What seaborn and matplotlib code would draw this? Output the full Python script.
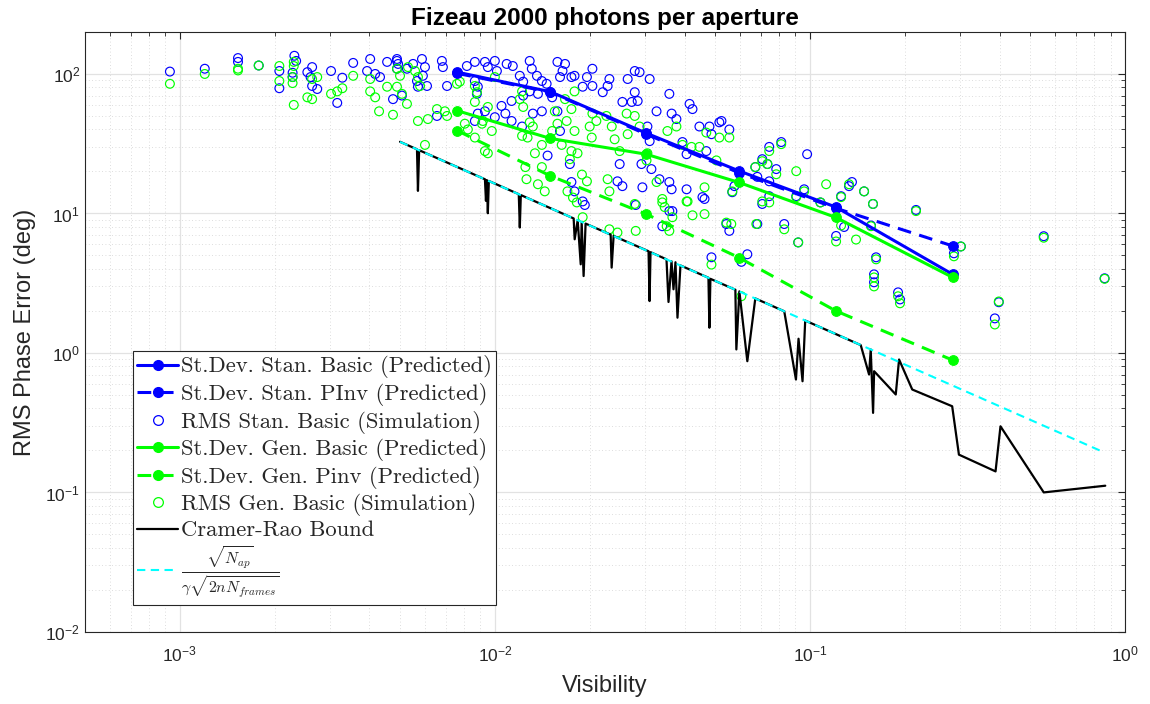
import numpy as np
import matplotlib
matplotlib.use("Agg")
import matplotlib.pyplot as plt
import seaborn as sns
from matplotlib.font_manager import FontProperties
from matplotlib.ticker import LogLocator, NullFormatter
from matplotlib.lines import Line2D

# ---------------- data ----------------
vis_pred = [0.0076, 0.0150, 0.0302, 0.0595, 0.121, 0.284]
stan_basic_pred = [103, 74.6, 37.7, 20.2, 11.1, 3.66]
stan_pinv_pred = [101, 74.0, 37.0, 19.6, 10.9, 5.85]
gen_basic_pred = [54.5, 34.5, 26.6, 16.7, 9.36, 3.48]
gen_pinv_pred = [39.2, 18.6, 9.9, 4.83, 2.0, 0.888]

vis_stan_sim = [
    0.00093, 0.0012, 0.00153, 0.00153, 0.00178, 0.00207, 0.00207, 0.00231, 0.00234, 0.00228,
    0.00228, 0.00254, 0.00263, 0.0026, 0.00263, 0.00273, 0.00302, 0.00316, 0.00328, 0.00355,
    0.00402, 0.00393, 0.00417, 0.00432, 0.00455, 0.00475, 0.00489, 0.00489,
    0.00489, 0.00493, 0.00526, 0.0055, 0.00587, 0.0060, 0.00591, 0.00566, 0.0057, 0.00507,
    0.00609, 0.00679, 0.00684, 0.00705, 0.00815, 0.00864, 0.00864, 0.00883, 0.00877, 0.0093,
    0.0095, 0.0100, 0.01015, 0.0109, 0.0114, 0.0120, 0.0123, 0.0129, 0.0131, 0.0136,
    0.0141, 0.0146, 0.0158, 0.0161, 0.0152, 0.0137, 0.0129, 0.0123, 0.0113, 0.0108,
    0.0113, 0.0100, 0.0093, 0.00883, 0.00864, 0.00655, 0.0122, 0.0132, 0.0141, 0.0147,
    0.0105, 0.0158, 0.0161,
    0.0164, 0.0175, 0.0179, 0.0196, 0.0204, 0.0231, 0.0228, 0.0220, 0.0204, 0.0278,
    0.0288, 0.0264, 0.0310, 0.0278, 0.0254, 0.0272, 0.0284, 0.0358, 0.0326, 0.0364,
    0.0377, 0.0415, 0.0424, 0.0446, 0.0480, 0.0516, 0.0487, 0.0305, 0.0310, 0.0292,
    0.0314, 0.0249, 0.0245, 0.0254, 0.0294, 0.0333, 0.0358, 0.0364, 0.0358, 0.0406,
    0.0456, 0.0394, 0.0406, 0.0469, 0.0190, 0.0173, 0.0175, 0.0179, 0.0167, 0.0190,
    0.0193, 0.0280, 0.0366, 0.0340, 0.0463, 0.0543, 0.0555, 0.0487, 0.0633, 0.0606,
    0.0524, 0.0555, 0.0743, 0.0811, 0.0706, 0.0671, 0.0733, 0.0782, 0.0681, 0.0743,
    0.0743, 0.0706, 0.098, 0.0959, 0.0905, 0.108, 0.1331, 0.136, 0.1486, 0.1586,
    0.1256, 0.2172, 0.0681, 0.0829, 0.0918, 0.1211, 0.1284, 0.1563, 0.1622, 0.1598,
    0.1598, 0.1905, 0.1932, 0.0567, 0.0576, 0.2865, 0.3014, 0.3978, 0.3864, 0.5524,
    0.8619]
rms_stan_sim = [
    104, 109, 130, 122, 115, 105, 79, 135, 124, 102,
    95, 103, 112, 95, 82, 78, 105, 62, 94, 120,
    128, 105, 100, 95, 122, 66, 124, 109,
    128, 118, 109, 118, 128, 112, 97, 89, 81, 70,
    82, 124, 112, 82, 114, 122, 89, 81, 72, 122,
    112, 124, 105, 118, 114, 97, 88, 124, 109, 97,
    89, 85, 122, 95, 68, 72, 75, 70, 64, 52,
    46, 49, 54, 52, 46, 50, 42, 52, 54, 26,
    59, 54, 39,
    105, 95, 97, 95, 82, 92, 82, 74, 109, 105,
    103, 92, 92, 74, 63, 63, 64, 72, 54, 52,
    47.5, 61, 56, 42, 42, 45, 37, 42, 33, 22.6,
    20.8, 22.6, 17, 15.7, 15.4, 17.6, 16.8, 14.9, 10.4, 14.9,
    13.1, 32.5, 26.6, 28, 12.2, 22.6, 16.8, 14.4, 118, 81,
    11.5, 11.5, 10.4, 8.1, 12.7, 8.4, 7.5, 4.85, 5.1, 4.5,
    46, 40, 30, 32.5, 24.5, 21.5, 22.6, 20.8, 18.3, 17,
    13.3, 11.7, 26.6, 14.9, 13.3, 12, 15.7, 16.8, 14.4, 11.7,
    13.3, 10.6, 8.4, 8.4, 6.2, 6.9, 8.0, 8.2, 4.85, 3.66,
    3.21, 2.72, 2.42, 14.2, 15.7, 5.18, 5.8, 2.31, 1.77, 6.87,
    3.43]

vis_gen_sim = [
    0.00093, 0.0012, 0.00153, 0.00153, 0.00178, 0.00207, 0.00207, 0.0023, 0.0023, 0.00228,
    0.00228, 0.0023, 0.00254, 0.00263, 0.00263, 0.00273, 0.00302, 0.00316, 0.00328, 0.00355,
    0.00402, 0.00402, 0.00417, 0.00429, 0.00455, 0.00475, 0.00489,
    0.0050, 0.0053, 0.00558, 0.0057, 0.00579, 0.00489, 0.00507, 0.00526, 0.0057, 0.00613,
    0.00655, 0.00694, 0.00705, 0.00758, 0.00774, 0.00864, 0.00877, 0.00864, 0.0095, 0.0100,
    0.00916, 0.0091, 0.00978, 0.00803, 0.00821, 0.00864, 0.0060, 0.0095, 0.0093, 0.0122,
    0.0120, 0.0123, 0.0129, 0.0132, 0.0122, 0.0127, 0.0141, 0.0134, 0.0125, 0.0141,
    0.0126, 0.0137, 0.0144, 0.0155, 0.0158, 0.0152, 0.0163,
    0.0179, 0.0167, 0.0175, 0.0169, 0.0179, 0.0204, 0.0210, 0.0200, 0.0203, 0.0226,
    0.0235, 0.0262, 0.0278, 0.0288, 0.0264, 0.0240, 0.0249, 0.0305, 0.0303, 0.0353,
    0.0377, 0.0394, 0.0421, 0.0446, 0.0469, 0.0516, 0.0505, 0.0175, 0.0173, 0.0183,
    0.0189, 0.0196, 0.0170, 0.0177, 0.0228, 0.0231, 0.0278, 0.0340, 0.0409, 0.0463,
    0.0326,
    0.0182, 0.0190, 0.0231, 0.0245, 0.0280, 0.0340, 0.0346, 0.0366, 0.0351, 0.0358,
    0.0406, 0.0424, 0.0463, 0.0543, 0.0563, 0.0487, 0.0676, 0.0606,
    0.0555, 0.0743, 0.0811, 0.0706, 0.0671, 0.0733, 0.0782, 0.0743, 0.0706, 0.0905,
    0.0959, 0.0905, 0.108, 0.1126, 0.1331, 0.1486, 0.1586, 0.1256, 0.2172, 0.0829,
    0.0918, 0.1211, 0.1401, 0.1256, 0.1563, 0.1622, 0.1598, 0.1598, 0.1905, 0.1932,
    0.0567, 0.2865, 0.3014, 0.3978, 0.3864, 0.5524, 0.8619]
rms_gen_sim = [
    85, 100, 109, 106, 115, 114, 89, 122, 114, 95,
    86, 60, 68, 66, 92, 95, 72, 75, 79, 97,
    92, 75, 68, 54, 81, 51, 109,
    97, 112, 105, 95, 82, 81, 72, 61, 46, 47.5,
    56, 54, 50, 85, 88, 82, 74, 63, 58, 95,
    46, 44, 39, 44, 40, 35, 31, 27, 28, 75,
    66, 58, 45, 42, 36, 35, 31, 27, 21.5, 21.5,
    17.6, 16.2, 14.4, 54, 44, 39, 31,
    75, 66, 56, 46, 39, 52, 46, 42, 35, 50,
    42, 52, 50, 42, 37, 34, 28, 27, 24, 39,
    42, 31, 30, 30, 38, 35, 24, 28, 24.5, 27,
    19, 17, 14.4, 13, 17.6, 14.4, 11.7, 12.7, 12.2, 15.4,
    16.8,
    12, 9.4, 7.7, 7.3, 7.5, 12, 11.1, 9.4, 8.1, 7.5,
    12.2, 9.7, 9.9, 8.6, 8.4, 4.3, 8.4, 2.55,
    35, 28, 31.4, 23.7, 21.5, 22.6, 19.1, 12, 12.2, 20.1,
    14.4, 13.1, 12, 16.2, 16.2, 14.4, 11.7, 13.1, 10.4, 7.7,
    6.2, 6.3, 6.5, 8.2, 8.1, 4.69, 3.48, 3.0, 2.55, 2.27,
    14.4, 4.93, 5.8, 2.34, 1.60, 6.7, 3.4]

vis_crb = [0.00500, 0.00566, 0.00570, 0.00575, 0.00930, 0.00937, 0.00943, 0.00950, 0.00957, 0.01191,
           0.01200, 0.01209, 0.01779, 0.01792, 0.01832, 0.01873, 0.01886, 0.01913, 0.01941, 0.02331,
           0.02348, 0.02382, 0.03075, 0.03098, 0.03120, 0.03506, 0.03558, 0.03637, 0.03690, 0.03744,
           0.03799, 0.03883, 0.04764, 0.04797, 0.04833, 0.05800, 0.05842, 0.05972, 0.06330, 0.06710,
           0.08291, 0.09031, 0.09203, 0.09476, 0.09663, 0.1450, 0.1541, 0.1560, 0.1587, 0.1599,
           0.1873, 0.1919, 0.2113, 0.2829, 0.2972, 0.3884, 0.4027, 0.5525, 0.8662]
crb = [32.65, 28.84, 14.52, 28.41, 17.59, 12.31, 17.36, 10.04, 17.10, 13.75,
       7.93, 13.55, 9.21, 6.53, 8.94, 4.32, 8.65, 3.56, 8.46, 7.05,
       4.09, 6.90, 5.36, 2.355, 5.28, 4.69, 2.32, 4.54, 2.86, 4.47,
       1.79, 4.24, 3.46, 1.517, 3.40, 2.84, 1.060, 2.765, 0.873, 2.46,
       1.99, 0.645, 1.265, 0.627, 1.708, 1.139, 0.701, 1.060, 0.372, 0.740,
       0.504, 0.898, 0.547, 0.415, 0.1867, 0.1416, 0.298, 0.1001, 0.1118]

vis_approx = [0.0050, 0.845]
approx = [32.6, 0.197]

labels = ["St.Dev. Stan. Basic (Predicted)",
          "St.Dev. Stan. PInv (Predicted)",
          "RMS Stan. Basic (Simulation)",
          "St.Dev. Gen. Basic (Predicted)",
          "St.Dev. Gen. Pinv (Predicted)",
          "RMS Gen. Basic (Simulation)",
          "Cramer-Rao Bound",
          r"$\frac{\sqrt{N_{ap}}}{\gamma\sqrt{2nN_{frames}}}$"]

# ---------------- style ----------------
sns.set_theme(style="white")
plt.rcParams['font.family'] = ['Liberation Sans', 'DejaVu Sans']
plt.rcParams['mathtext.fontset'] = 'custom'
plt.rcParams['mathtext.rm'] = 'Liberation Sans'
plt.rcParams['mathtext.it'] = 'Liberation Sans:italic'
plt.rcParams['mathtext.bf'] = 'Liberation Sans:bold'

BLUE = '#0000ff'
GREEN = '#00ff00'
CYAN = '#00ffff'
DASH = (0, (4.5, 2.8))

fig = plt.figure(figsize=(11.5, 7.04), dpi=100)
ax = fig.add_axes([0.0739, 0.1023, 0.9043, 0.8523])
ax.set_xscale('log')
ax.set_yscale('log')
ax.set_axisbelow(True)

lw = 2.2
ms = 7
sns.lineplot(x=vis_pred, y=stan_basic_pred, ax=ax, color=BLUE, lw=lw, marker='o', markersize=ms,
             markeredgecolor=BLUE, estimator=None, sort=False)
sns.lineplot(x=vis_pred, y=stan_pinv_pred, ax=ax, color=BLUE, lw=lw, linestyle=DASH, marker='o',
             markersize=ms, markeredgecolor=BLUE, estimator=None, sort=False)
sns.scatterplot(x=vis_stan_sim, y=rms_stan_sim, ax=ax, marker='o', s=40, linewidth=0.85)
c = ax.collections[-1]
c.set_facecolor('none'); c.set_edgecolor(BLUE); c.set_linewidth(0.85)

sns.lineplot(x=vis_pred, y=gen_basic_pred, ax=ax, color=GREEN, lw=lw, marker='o', markersize=ms,
             markeredgecolor=GREEN, estimator=None, sort=False)
sns.lineplot(x=vis_pred, y=gen_pinv_pred, ax=ax, color=GREEN, lw=lw, linestyle=DASH, marker='o',
             markersize=ms, markeredgecolor=GREEN, estimator=None, sort=False)
sns.scatterplot(x=vis_gen_sim, y=rms_gen_sim, ax=ax, marker='o', s=40, linewidth=0.85)
c = ax.collections[-1]
c.set_facecolor('none'); c.set_edgecolor(GREEN); c.set_linewidth(0.85)

sns.lineplot(x=vis_crb, y=crb, ax=ax, color='black', lw=1.6, estimator=None, sort=False)
sns.lineplot(x=vis_approx, y=approx, ax=ax, color=CYAN, lw=1.5, linestyle=(0, (4, 2.6)),
             estimator=None, sort=False)

ax.set_xlim(5e-4, 1)
ax.set_ylim(1e-2, 2e2)

ax.xaxis.set_major_locator(LogLocator(base=10, numticks=20))
ax.yaxis.set_major_locator(LogLocator(base=10, numticks=20))
ax.xaxis.set_minor_locator(LogLocator(base=10, subs=np.arange(2, 10), numticks=100))
ax.yaxis.set_minor_locator(LogLocator(base=10, subs=np.arange(2, 10), numticks=100))
ax.xaxis.set_minor_formatter(NullFormatter())
ax.yaxis.set_minor_formatter(NullFormatter())

ax.grid(True, which='major', color='#e2e2e2', lw=0.9, ls='-')
ax.grid(True, which='minor', color='#d2d2d2', lw=0.6, ls=(0, (1, 3)))
ax.tick_params(which='both', direction='in', top=True, right=True, colors='#262626',
               labelsize=12.5, labelcolor='#262626')
ax.tick_params(which='major', length=5, width=0.8)
ax.tick_params(which='minor', length=3, width=0.6)
ax.tick_params(axis='x', which='major', pad=9)
for s in ax.spines.values():
    s.set_color('#262626'); s.set_linewidth(0.8); s.set_visible(True)

ax.set_title("Fizeau 2000 photons per aperture", fontweight='bold', fontsize=17.5, pad=5,
             color='black')
ax.set_xlabel("Visibility", fontsize=17, color='#262626', labelpad=8)
ax.set_ylabel("RMS Phase Error (deg)", fontsize=17, color='#262626', labelpad=7)

handles = [
    Line2D([], [], color=BLUE, lw=lw, marker='o', ms=ms),
    Line2D([], [], color=BLUE, lw=lw, ls=DASH, marker='o', ms=ms),
    Line2D([], [], ls='none', marker='o', mfc='none', mec=BLUE, ms=7, mew=0.9),
    Line2D([], [], color=GREEN, lw=lw, marker='o', ms=ms),
    Line2D([], [], color=GREEN, lw=lw, ls=DASH, marker='o', ms=ms),
    Line2D([], [], ls='none', marker='o', mfc='none', mec=GREEN, ms=7, mew=0.9),
    Line2D([], [], color='black', lw=1.6),
    Line2D([], [], color=CYAN, lw=1.5, ls=(0, (4, 2.6))),
]
fp = FontProperties(family=['cmr10', 'DejaVu Serif'], size=16.3, math_fontfamily='cm')
leg = ax.legend(handles, labels, loc='lower left', bbox_to_anchor=(0.046, 0.045),
                borderaxespad=0, frameon=True, fancybox=False, framealpha=1,
                edgecolor='#262626', prop=fp, handlelength=1.8, handletextpad=0.12,
                labelspacing=0.2, borderpad=0.2, numpoints=1)
leg.get_frame().set_linewidth(0.8)

fig.savefig("out.png", dpi=100)
